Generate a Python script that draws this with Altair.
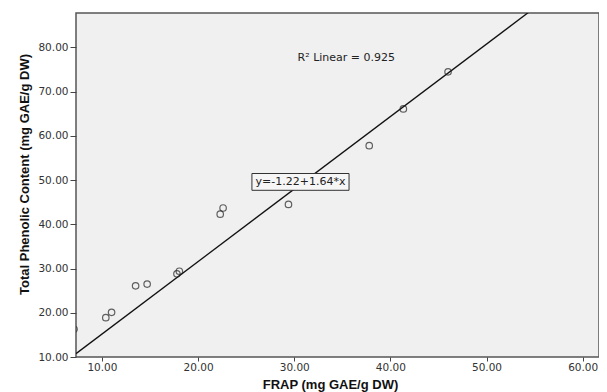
import altair as alt
import pandas as pd

# Data
frap = [7.1, 10.4, 11.0, 13.5, 14.7, 17.8, 18.05, 22.3, 22.6, 29.4, 37.8, 41.35, 46.0]
tpc = [16.3, 18.9, 20.1, 26.1, 26.5, 28.8, 29.4, 42.3, 43.7, 44.5, 57.8, 66.1, 74.5]

intercept = -1.22
slope = 1.64
fit_x = [7.3, 61.7]
fit_y = [intercept + slope * v for v in fit_x]

x_ticks = [10, 20, 30, 40, 50, 60]
y_ticks = [10, 20, 30, 40, 50, 60, 70, 80]
x_domain = [7.3, 61.7]
y_domain = [10, 87.8]

eq_text = ["y=-1.22+1.64*x"]
eq_x = [30.65]
eq_y = [49.6]
eq_box_x = [25.6]
eq_box_x2 = [35.7]
eq_box_y = [47.7]
eq_box_y2 = [51.5]

r2_text = ["R² Linear = 0.925"]
r2_x = [30.35]
r2_y = [77.6]

pts = pd.DataFrame({"frap": frap, "tpc": tpc})
fit = pd.DataFrame({"frap": fit_x, "tpc": fit_y})
eq = pd.DataFrame({"t": eq_text, "x": eq_x, "y": eq_y, "x1": eq_box_x, "x2": eq_box_x2,
                   "y1": eq_box_y, "y2": eq_box_y2})
r2 = pd.DataFrame({"t": r2_text, "x": r2_x, "y": r2_y})

TFONT = "Liberation Sans"
LFONT = "DejaVu Sans"

xs = alt.Scale(domain=x_domain, nice=False, zero=False)
ys = alt.Scale(domain=y_domain, nice=False, zero=False)

x_axis = alt.Axis(values=x_ticks, format=".2f", title="FRAP (mg GAE/g DW)",
                  grid=False, domain=False, tickColor="#444", tickSize=4,
                  labelFont=LFONT, labelFontSize=10.5, labelColor="#333", labelPadding=1,
                  titleFont=TFONT, titleFontSize=13, titleFontWeight="bold", titleColor="#111",
                  titleBaseline="alphabetic", titleY=31, titleX=254)
y_axis = alt.Axis(values=y_ticks, format=".2f", title="Total Phenolic Content (mg GAE/g DW)",
                  grid=False, domain=False, tickColor="#444", tickSize=6,
                  labelFont=LFONT, labelFontSize=10.5, labelColor="#333", labelPadding=2,
                  titleFont=TFONT, titleFontSize=13, titleFontWeight="bold", titleColor="#111",
                  titlePadding=6, titleY=161)

points = alt.Chart(pts).mark_point(shape="circle", filled=False, color="#222",
                                   size=42, strokeWidth=1.2, clip=True).encode(
    x=alt.X("frap:Q", scale=xs, axis=x_axis),
    y=alt.Y("tpc:Q", scale=ys, axis=y_axis),
)

line = alt.Chart(fit).mark_line(color="#111", strokeWidth=1.3, clip=True).encode(
    x=alt.X("frap:Q", scale=xs),
    y=alt.Y("tpc:Q", scale=ys),
)

box = alt.Chart(eq).mark_rect(fill="#f6f6f6", stroke="#333", strokeWidth=1).encode(
    x=alt.X("x1:Q", scale=xs), x2="x2:Q",
    y=alt.Y("y1:Q", scale=ys), y2="y2:Q",
)
eq_label = alt.Chart(eq).mark_text(font=LFONT, fontSize=11, color="#222",
                                   align="center", baseline="middle").encode(
    x=alt.X("x:Q", scale=xs), y=alt.Y("y:Q", scale=ys), text="t:N")

r2_label = alt.Chart(r2).mark_text(font=LFONT, fontSize=11, color="#222",
                                   align="left", baseline="middle").encode(
    x=alt.X("x:Q", scale=xs), y=alt.Y("y:Q", scale=ys), text="t:N")

chart = alt.layer(line, points, box, eq_label, r2_label).properties(
    width=523, height=344,
    autosize=alt.AutoSizeParams(type="none"),
    padding={"left": 68, "top": 5, "right": 0, "bottom": 36},
    background="white",
).configure_view(
    fill="#f0f0f0", stroke="#555", strokeWidth=1.5
)

chart.save("out.html", embed_options={"renderer": "svg", "actions": False})
